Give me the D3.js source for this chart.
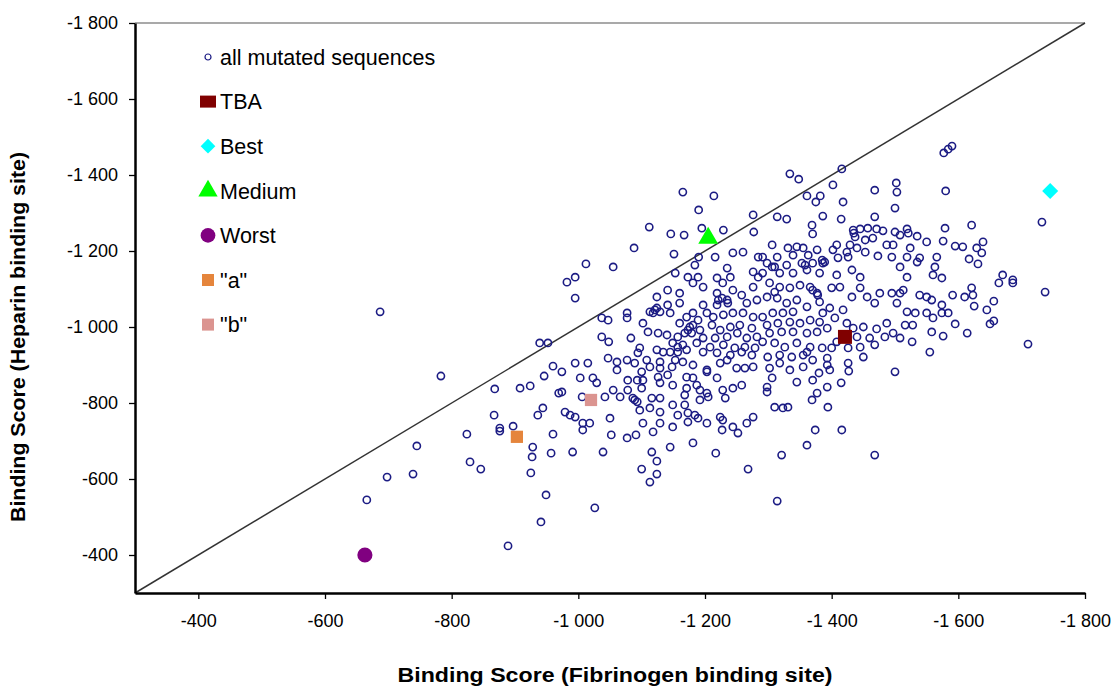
<!DOCTYPE html>
<html>
<head>
<meta charset="utf-8">
<script src="https://cdnjs.cloudflare.com/ajax/libs/d3/7.8.5/d3.min.js"></script>
<style>
  body { margin: 0; background: #fff; }
  svg text { font-family: "Liberation Sans", Arial, sans-serif; fill: #000; }
</style>
</head>
<body>
<script>
// tick values (binding scores are negative, axes run from -300 to -1800)
var xTicks = [-400, -600, -800, -1000, -1200, -1400, -1600, -1800];
var yTicks = [-400, -600, -800, -1000, -1200, -1400, -1600, -1800];

// all mutated sequences: [fibrinogen score, heparin score]
var mutated = [
  [-1012,-1166],[-995,-1131],[-1055,-1158],[-1088,-1208],[-1112,-1263],[-1146,-1245],[-1167,-1242],
  [-1165,-1355],[-1214,-1345],[-1190,-1308],[-1195,-1260],[-1229,-1255],[-1151,-1192],[-1276,-1295],
  [-1277,-1250],[-1216,-1184],[-1244,-1195],[-1260,-1197],[-1284,-1184],[-1190,-1184],[-1184,-1163],
  [-1235,-1155],[-1153,-1142],[-1189,-1131],[-1173,-1131],[-1240,-1131],[-1219,-1129],[-1276,-1145],
  [-1284,-1131],
  [-1334,-1403],[-1348,-1389],[-1416,-1416],[-1402,-1374],[-1361,-1345],[-1382,-1345],[-1375,-1329],
  [-1418,-1329],[-1468,-1360],[-1502,-1379],[-1503,-1355],[-1500,-1313],[-1580,-1358],[-1577,-1458],
  [-1590,-1476],[-1584,-1468],[-1314,-1290],[-1329,-1284],[-1386,-1292],[-1415,-1284],[-1468,-1290],
  [-1369,-1268],[-1370,-1245],[-1579,-1260],[-1576,-1226],[-1595,-1213],[-1434,-1255],[-1445,-1258],
  [-1457,-1260],[-1471,-1258],[-1481,-1253],[-1500,-1250],[-1519,-1258],[-1508,-1242],[-1535,-1239],
  [-1550,-1224],[-1437,-1237],[-1453,-1229],[-1465,-1234],[-1487,-1216],[-1497,-1216],[-1524,-1208],
  [-1429,-1216],[-1408,-1216],[-1306,-1216],[-1331,-1208],[-1345,-1211],[-1355,-1208],[-1377,-1203],
  [-1402,-1203],[-1440,-1208],[-1424,-1197],[-1453,-1197],[-1473,-1187],[-1495,-1184],[-1519,-1184],
  [-1539,-1182],[-1566,-1184],[-1291,-1184],[-1314,-1184],[-1339,-1189],[-1363,-1189],[-1385,-1176],
  [-1410,-1182],[-1426,-1184],[-1298,-1168],[-1310,-1158],[-1329,-1163],[-1353,-1168],[-1370,-1168],
  [-1386,-1168],[-1535,-1171],[-1508,-1158],[-1563,-1158],[-1291,-1142],[-1318,-1142],[-1339,-1142],
  [-1361,-1150],[-1381,-1142],[-1408,-1137],[-1432,-1150],[-1445,-1131],[-1519,-1131],[-1560,-1137],
  [-1574,-1129],[-1358,-1163],[-1306,-1158],[-1389,-1171],[-1435,-1247],[-1521,-1247],
  [-1621,-1268],[-1732,-1276],[-1639,-1224],[-1607,-1211],[-1629,-1208],[-1637,-1195],[-1617,-1179],
  [-1631,-1166],[-1670,-1137],[-1686,-1124],
  [-1621,-1103],[-1610,-1079],[-1623,-1084],[-1664,-1116],[-1686,-1116],[-1737,-1092],[-1625,-1055],
  [-1656,-1068],[-1645,-1045],[-1650,-1008],[-1656,-1016],[-1614,-984],[-1710,-955],
  [-687,-1040],[-783,-871],[-939,-958],[-952,-958],[-960,-897],[-946,-871],[-868,-837],[-908,-839],
  [-924,-845],[-969,-826],[-867,-768],[-936,-768],[-944,-787],[-876,-734],[-897,-739],
  [-824,-718],[-876,-726],[-960,-718],[-745,-687],[-928,-684],[-927,-658],[-957,-668],[-829,-645],
  [-846,-626],[-698,-605],[-739,-613],[-925,-616],[-666,-545],[-949,-558],[-941,-487],[-889,-424],
  [-1007,-729],[-1052,-716],[-1077,-708],[-1091,-716],[-1118,-724],[-1145,-684],[-1181,-695],
  [-1227,-729],[-1252,-721],[-991,-671],[-1039,-671],[-1116,-671],[-1124,-647],[-1217,-668],
  [-1100,-626],[-1124,-613],[-1113,-592],[-1268,-626],[-1026,-524],
  [-1374,-729],[-1416,-729],[-1361,-689],[-1321,-663],[-1468,-663],[-1314,-542],
  [-1450,-921],[-1426,-905],[-1427,-884],[-1500,-882],[-1415,-853],[-1393,-842],[-1397,-887],
  [-1380,-879],[-1345,-855],[-1370,-860],[-1377,-826],[-1369,-808],[-1393,-900],[-1355,-895],
  [-1334,-887],[-1318,-905],[-1302,-892],[-1306,-866],[-1298,-842],[-1298,-829],[-1310,-789],
  [-1323,-787],[-1331,-789],[-1394,-789],[-1555,-934],[-1576,-976],[-1595,-1008],[-1558,-987],
  [-1528,-1005],[-1516,-1005],[-1527,-961],[-1508,-971],[-1497,-984],[-1487,-1010],[-1484,-974],
  [-1471,-995],[-1468,-953],[-1460,-971],[-1445,-947],[-1440,-974],[-1426,-945],[-1434,-997],
  [-1450,-1000],[-1519,-1040],[-1532,-1037],[-1550,-1037],[-1560,-1024],[-1574,-1037],[-1584,-1037],
  [-1558,-1071],[-1574,-1058],[-1591,-1084],[-1539,-1084],[-1550,-1079],[-1513,-1097],[-1503,-1063],
  [-1495,-1089],[-1476,-1089],[-1468,-1063],[-1456,-1079],[-1445,-1103],[-1432,-1079],[-1413,-1105],
  [-1400,-1103],[-1418,-1045],[-1424,-1010],[-1405,-1024],[-1397,-1050],[-1386,-1037],[-1381,-1066],
  [-1377,-1089],[-1366,-1105],[-1350,-1110],[-1334,-1103],[-1318,-1105],[-1302,-1116],[-1298,-1079],
  [-1314,-1076],[-1329,-1063],[-1345,-1071],[-1361,-1053],[-1339,-1040],[-1323,-1037],[-1307,-1037],
  [-1291,-1026],[-1298,-1005],[-1315,-1010],[-1334,-1013],[-1350,-1010],[-1366,-1018],[-1381,-1013],
  [-1393,-997],[-1377,-987],[-1361,-984],[-1339,-987],[-1321,-987],[-1302,-984],[-1291,-961],
  [-1310,-958],[-1326,-947],[-1345,-958],[-1366,-947],[-1385,-945],[-1400,-945],[-1355,-926],
  [-1337,-921],[-1318,-926],[-1299,-921],[-1370,-913],[-1393,-918],[-1408,-961],[-1508,-1089],
  [-1378,-1084],[-1370,-1097],[-1361,-934],[-1310,-1092],
  [-982,-1118],[-995,-1076],[-1124,-1079],[-1141,-1097],[-1160,-1089],[-1160,-1063],[-1141,-1058],
  [-1181,-1116],[-1197,-1105],[-1219,-1089],[-1228,-1116],[-1244,-1097],[-1235,-1071],[-1258,-1084],
  [-1276,-1105],[-1266,-1063],[-1282,-1071],[-1219,-1058],[-1197,-1058],[-1121,-1045],[-1129,-1040],
  [-1113,-1040],[-1145,-1037],[-1077,-1037],[-1077,-1024],[-1102,-1010],[-1037,-1024],[-1047,-1018],
  [-1181,-1037],[-1171,-1026],[-1189,-1018],[-1203,-1037],[-1213,-1026],[-1229,-1032],[-1244,-1037],
  [-1260,-1037],[-1276,-1026],[-1160,-1010],[-1176,-1000],[-1192,-992],[-1211,-1005],[-1224,-992],
  [-1240,-1000],[-1255,-1005],[-1274,-997],[-1110,-987],[-1126,-984],[-1140,-979],[-1157,-974],
  [-1179,-984],[-1197,-971],[-1216,-971],[-1235,-974],[-1251,-984],[-1266,-971],[-1282,-974],
  [-1037,-974],[-1048,-961],[-1083,-971],[-1149,-958],[-1165,-953],[-1187,-958],[-1208,-947],
  [-1229,-953],[-1247,-945],[-1263,-947],[-1279,-945],[-1097,-945],[-1094,-932],[-1124,-940],
  [-1134,-934],[-1145,-934],[-1157,-934],[-1171,-940],[-1197,-934],[-1219,-932],[-1240,-926],
  [-1258,-934],[-1274,-926],[-1047,-918],[-1061,-908],[-1077,-913],[-1089,-905],[-1108,-913],
  [-1113,-895],[-1129,-908],[-1129,-892],[-1148,-895],[-1153,-913],[-1165,-908],[-1181,-900],
  [-1203,-887],[-1224,-905],[-1235,-913],[-1250,-892],[-1263,-892],[-1276,-895],[-995,-905],
  [-1015,-905],[-974,-882],[-1061,-887],[-1100,-882],[-1126,-868],[-1102,-860],[-1141,-874],
  [-1171,-868],[-1203,-882],[-1181,-866],[-1219,-866],[-1003,-866],[-1023,-866],[-1029,-853],
  [-1078,-860],[-1093,-860],[-1078,-834],[-1055,-834],[-1100,-839],[-1129,-853],[-1149,-847],
  [-1171,-839],[-1187,-847],[-1192,-834],[-1203,-826],[-1228,-834],[-1244,-839],[-1258,-847],
  [-974,-829],[-1042,-816],[-1006,-816],[-1066,-816],[-1086,-813],[-1093,-803],[-1116,-813],
  [-1129,-813],[-1149,-795],[-1168,-821],[-1168,-795],[-1192,-808],[-1205,-816],[-1232,-813],
  [-1097,-781],[-1113,-787],[-1129,-776],[-979,-776],[-987,-768],[-995,-763],[-1050,-760],
  [-1157,-768],[-1173,-774],[-1184,-768],[-1189,-760],[-1224,-763],[-1276,-763],[-1007,-747],
  [-1018,-747],[-1102,-747],[-1129,-747],[-1149,-737],[-1173,-750],[-1203,-747],[-1228,-755],
  [-1244,-737],[-1266,-747],
  [-1124,-1050],[-1118,-1037],[-1173,-992],[-1181,-1005],[-1168,-984],[-1227,-1076],[-1236,-1063],
  [-1221,-1071],[-1157,-947],[-1089,-808]
];

// highlighted sequences
var specialNames = ["TBA", "Best", "Medium", "Worst", "\"a\"", "\"b\""];
var specialX = [-1421, -1745, -1205, -663, -903, -1020];
var specialY = [-974, -1358, -1234, -400, -711, -808];

var xTitle = "Binding Score (Fibrinogen binding site)";
var yTitle = "Binding Score  (Heparin binding site)";

// look of the highlighted markers
var specialStyle = {
  "TBA":    { shape: d3.symbolSquare,   size: 196, rot: 0,  color: "#800000" },
  "Best":   { shape: d3.symbolSquare,   size: 128, rot: 45, color: "#00ffff" },
  "Medium": { shape: d3.symbolTriangle, size: 170, rot: 0,  color: "#00ff00" },
  "Worst":  { shape: d3.symbolCircle,   size: 180, rot: 0,  color: "#800080" },
  "\"a\"":  { shape: d3.symbolSquare,   size: 150, rot: 0,  color: "#e5853c" },
  "\"b\"":  { shape: d3.symbolSquare,   size: 150, rot: 0,  color: "#db9490" }
};

var width = 1112, height = 689;
var svg = d3.select("body").append("svg").attr("width", width).attr("height", height);

var x = d3.scaleLinear().domain([-300, -1800]).range([135, 1085]);
var y = d3.scaleLinear().domain([-300, -1800]).range([593, 23]);

var fmt = function(d) {
  var s = String(Math.abs(d));
  if (s.length > 3) s = s.slice(0, s.length - 3) + " " + s.slice(-3);
  return "-" + s;
};

// top frame line
svg.append("line")
  .attr("x1", x(-300)).attr("x2", x(-1800))
  .attr("y1", y(-1800)).attr("y2", y(-1800))
  .attr("stroke", "#8c8c8c").attr("stroke-width", 1.5);

// diagonal y = x
svg.append("line")
  .attr("x1", x(-300)).attr("y1", y(-300))
  .attr("x2", x(-1800)).attr("y2", y(-1800))
  .attr("stroke", "#333").attr("stroke-width", 1.5);

var xAxis = svg.append("g")
  .attr("transform", "translate(0," + y(-300) + ")")
  .call(d3.axisBottom(x).tickValues(xTicks).tickFormat(fmt).tickSize(6).tickSizeOuter(0).tickPadding(15));
var yAxis = svg.append("g")
  .attr("transform", "translate(" + x(-300) + ",0)")
  .call(d3.axisLeft(y).tickValues(yTicks).tickFormat(fmt).tickSize(6).tickSizeOuter(0).tickPadding(11));

[xAxis, yAxis].forEach(function(g) {
  g.select(".domain").attr("stroke", "#000").attr("stroke-width", 2.5);
  g.selectAll(".tick line").attr("stroke", "#000").attr("stroke-width", 1.3);
  g.selectAll(".tick text").attr("font-size", 18).attr("font-family", "Liberation Sans, Arial, sans-serif").attr("fill", "#000");
});

// scatter
svg.append("g").selectAll("circle")
  .data(mutated)
  .enter().append("circle")
  .attr("cx", function(d) { return x(d[0]); })
  .attr("cy", function(d) { return y(d[1]); })
  .attr("r", 3.6)
  .attr("fill", "none")
  .attr("stroke", "#1c1c84")
  .attr("stroke-width", 1.6);

// highlighted ones
svg.append("g").selectAll("path")
  .data(specialNames)
  .enter().append("path")
  .attr("transform", function(d, i) {
    return "translate(" + x(specialX[i]) + "," + y(specialY[i]) + ") rotate(" + specialStyle[d].rot + ")";
  })
  .attr("d", function(d) { return d3.symbol().type(specialStyle[d].shape).size(specialStyle[d].size)(); })
  .attr("fill", function(d) { return specialStyle[d].color; });

// legend
var legendNames = ["all mutated sequences"].concat(specialNames);
var legend = svg.append("g").attr("transform", "translate(208,57)");
var rows = legend.selectAll("g").data(legendNames).enter().append("g")
  .attr("transform", function(d, i) { return "translate(0," + (i * 44.6) + ")"; });
rows.each(function(d, i) {
  var g = d3.select(this);
  if (i === 0) {
    g.append("circle").attr("r", 3).attr("fill", "none").attr("stroke", "#1c1c84").attr("stroke-width", 1.2);
  } else if (d === "TBA") {
    g.append("rect").attr("x", -8).attr("y", -6).attr("width", 16).attr("height", 12).attr("fill", specialStyle[d].color);
  } else {
    var st = specialStyle[d];
    var sz = st.shape === d3.symbolSquare ? 144 * (st.rot ? 0.75 : 1) : st.size * 0.95;
    g.append("path").attr("transform", "rotate(" + st.rot + ")")
      .attr("d", d3.symbol().type(st.shape).size(sz)()).attr("fill", st.color);
  }
  g.append("text").attr("x", 12).attr("dy", "0.36em").attr("font-size", 21.5).text(d);
});

// axis titles
svg.append("text")
  .attr("x", 615).attr("y", 682)
  .attr("text-anchor", "middle").attr("font-weight", "bold").attr("font-size", 20)
  .attr("textLength", 435).attr("lengthAdjust", "spacingAndGlyphs")
  .text(xTitle);
svg.append("text")
  .attr("transform", "translate(25,337) rotate(-90)")
  .attr("text-anchor", "middle").attr("font-weight", "bold").attr("font-size", 20)
  .attr("textLength", 370).attr("lengthAdjust", "spacingAndGlyphs")
  .text(yTitle);
</script>
</body>
</html>
